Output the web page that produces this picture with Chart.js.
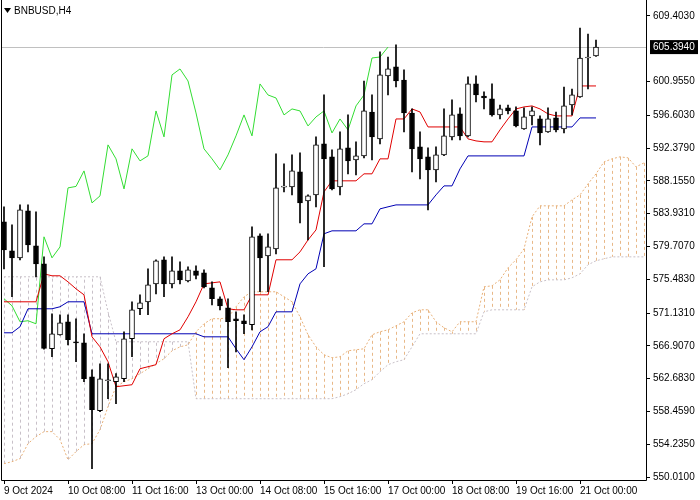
<!DOCTYPE html>
<html><head><meta charset="utf-8">
<script src="https://cdn.jsdelivr.net/npm/chart.js@4.4.1/dist/chart.umd.min.js"></script>
<style>html,body{margin:0;padding:0;background:#fff}#w{width:700px;height:500px}</style>
</head><body><div id="w"><canvas id="c"></canvas></div>
<script>
const symbolTitle = "BNBUSD,H4";
const xTickIndex = [0, 8, 16, 24, 32, 40, 48, 56, 64, 72];
const xTickLabels = ["9 Oct 2024","10 Oct 08:00","11 Oct 16:00","13 Oct 00:00","14 Oct 08:00","15 Oct 16:00","17 Oct 00:00","18 Oct 08:00","19 Oct 16:00","21 Oct 00:00"];
const yTicks = [609.4030,600.9550,596.6030,592.3790,588.1550,583.9310,579.7070,575.4830,571.1310,566.9070,562.6830,558.4590,554.2350,550.0100];
const lastPrice = 605.3940;

const openP = [582.89,579.15,578.25,584.30,579.79,577.48,566.54,568.34,570.02,567.44,567.31,562.94,558.56,562.42,562.29,562.68,567.83,571.69,572.59,574.90,578.00,574.90,576.58,575.29,576.58,576.32,574.39,572.98,571.82,570.41,570.15,569.63,581.09,578.51,579.41,587.35,587.39,589.32,585.59,586.36,592.93,591.26,587.39,592.42,590.87,591.39,597.04,593.57,601.68,602.84,601.16,596.91,592.54,591.26,589.58,591.51,593.83,596.79,593.96,600.65,599.10,598.72,596.66,597.56,597.17,594.86,596.53,596.14,594.47,596.27,594.86,597.94,598.97,603.99,604.25];
const highP = [584.82,582.50,585.07,585.07,584.17,578.38,571.05,570.92,570.92,570.41,568.47,563.84,564.61,564.61,563.33,568.73,572.59,573.49,576.84,578.00,578.38,578.38,577.74,577.10,577.23,576.71,575.16,573.24,572.98,571.30,570.92,582.24,581.35,581.35,591.64,590.35,591.51,591.77,586.36,593.83,599.23,592.16,594.47,596.66,593.19,601.03,599.23,604.77,604.12,605.67,602.45,597.43,594.47,592.42,592.54,597.43,598.59,597.56,601.55,601.68,599.62,600.65,597.94,597.94,597.69,597.56,597.69,596.53,597.56,597.04,600.26,600.00,607.85,607.08,606.31];
const lowP = [576.84,573.24,578.00,579.02,575.81,566.50,565.51,568.30,567.05,564.87,562.29,551.10,558.43,560.11,559.46,562.29,565.51,570.92,570.92,573.62,573.24,574.39,574.90,575.16,575.55,574.39,572.20,571.56,564.10,566.15,568.47,568.98,573.88,573.88,578.77,586.75,586.36,582.76,580.56,584.82,577.10,587.00,586.36,589.07,588.94,591.13,590.87,592.93,599.23,600.26,594.47,589.32,588.42,584.43,588.04,591.40,593.44,593.44,593.83,598.33,597.43,596.50,596.14,596.79,595.10,594.80,595.37,592.80,594.40,594.47,594.34,596.66,598.90,600.00,604.20];
const closeP = [579.28,578.25,584.43,579.92,577.48,566.60,568.47,569.89,567.70,567.31,562.68,558.69,562.68,562.50,562.94,567.83,571.56,572.46,574.77,577.87,574.90,576.58,575.42,576.71,576.00,574.52,572.98,572.07,570.02,570.15,569.76,580.96,578.25,579.66,587.26,587.45,589.45,585.33,586.23,592.80,591.00,587.13,592.29,590.74,591.39,597.17,593.83,601.81,602.58,601.03,596.91,592.29,591.00,589.58,591.51,593.96,596.66,593.96,600.65,599.23,598.84,596.66,597.43,597.17,595.24,596.40,597.17,594.34,596.14,594.73,597.82,599.23,603.99,604.12,605.394];

const tenkan = [572.59,572.59,572.59,572.59,572.59,576.19,575.94,575.94,575.16,574.26,573.49,568.08,566.79,564.87,561.65,561.78,561.91,563.97,564.23,564.49,567.83,568.47,568.98,570.66,572.59,574.90,575.03,575.16,571.69,571.56,571.56,573.49,573.49,573.49,578.00,578.00,578.00,579.02,580.56,581.85,586.75,588.17,588.17,588.17,588.17,589.07,589.07,591.00,591.00,596.14,596.14,597.43,597.04,595.11,595.11,595.11,595.11,595.11,593.57,593.31,593.19,593.19,594.73,596.14,597.43,597.69,597.82,597.43,596.79,596.53,596.53,596.53,600.39,600.39,600.39];
const kijun = [568.60,568.60,569.38,571.69,571.69,571.69,571.69,571.95,572.59,572.59,572.59,568.47,568.47,568.47,568.47,568.47,568.47,568.47,568.47,568.47,568.47,568.47,568.47,568.47,568.47,568.08,568.08,568.08,568.08,566.54,565.13,566.79,568.73,569.38,571.30,571.30,571.30,574.90,576.19,576.84,581.35,581.73,581.73,581.73,581.73,582.63,582.63,584.56,584.82,585.07,585.07,585.07,585.07,585.07,586.36,587.52,587.52,589.71,591.38,591.38,591.38,591.38,591.38,591.38,591.38,591.38,595.11,595.11,595.11,595.11,595.11,595.11,596.27,596.27,596.27];
const chikou = [572.98,572.07,570.02,570.15,569.76,580.96,578.25,579.66,587.26,587.45,589.45,585.33,586.23,592.80,591.00,587.13,592.29,590.74,591.39,597.17,593.83,601.81,602.58,601.03,596.91,592.29,591.00,589.58,591.51,593.96,596.66,593.96,600.65,599.23,598.84,596.66,597.43,597.17,595.24,596.40,597.17,594.34,596.14,594.73,597.82,599.23,603.99,604.12,605.394];
const spanA = [551.74,552.00,552.39,554.32,555.22,555.87,555.87,554.84,552.26,553.29,554.19,554.32,556.12,559.08,561.65,562.29,562.68,563.33,563.97,564.61,565.26,566.28,566.79,567.05,568.73,569.76,570.41,570.41,570.53,571.95,573.24,573.88,573.88,573.88,573.88,573.24,572.59,570.66,568.34,566.79,565.77,565.38,565.51,566.28,566.41,566.54,568.34,568.73,568.98,569.50,570.02,571.17,571.56,571.56,570.02,569.25,568.73,570.02,570.02,570.02,574.52,574.65,575.42,576.97,578.00,579.41,583.53,584.95,584.95,584.95,584.95,585.72,586.36,587.78,589.07,590.61,591.00,591.26,591.13,589.97,590.48];
const spanB = [575.81,575.81,575.81,575.81,575.81,575.81,575.81,575.81,575.81,575.81,575.81,575.81,575.81,571.30,567.44,567.44,567.44,567.44,567.44,567.44,567.44,567.44,567.44,567.44,560.11,560.11,560.11,560.11,560.11,560.11,560.11,560.11,560.11,560.11,560.11,560.11,560.11,560.11,560.11,560.11,560.11,560.11,560.37,560.75,561.27,562.04,562.56,563.58,564.49,564.87,565.13,566.79,568.47,568.47,568.47,568.47,568.47,568.47,568.47,568.47,571.30,571.56,571.56,571.56,571.56,571.56,574.52,575.16,575.42,575.42,575.42,575.68,576.19,577.36,577.87,578.13,578.38,578.38,578.38,578.38,578.38];

const pts = a => a.map((v, i) => ({x: i, y: v}));
const wickData = lowP.map((l, i) => ({x: i, y: [l, highP[i]]}));
const bodyData = openP.map((o, i) => ({x: i, y: [o, closeP[i]]}));
const bodyFill = openP.map((o, i) => closeP[i] >= o ? '#ffffff' : '#000000');

const cloudPlugin = {
  id: 'cloud',
  beforeDatasetsDraw(chart) {
    const {ctx, chartArea: a, scales: {x, y}} = chart;
    ctx.save();
    ctx.beginPath(); ctx.rect(a.left, a.top, a.right - a.left, a.bottom - a.top); ctx.clip();
    ctx.lineWidth = 1; ctx.setLineDash([3, 3]);
    for (let i = 0; i < spanA.length; i++) {
      const px = Math.round(x.getPixelForValue(i)) + 0.5;
      ctx.strokeStyle = spanA[i] > spanB[i] ? '#e8b888' : '#c8c0c8';
      ctx.beginPath(); ctx.moveTo(px, y.getPixelForValue(spanA[i])); ctx.lineTo(px, y.getPixelForValue(spanB[i])); ctx.stroke();
    }
    ctx.setLineDash([]);
    const py = Math.round(y.getPixelForValue(lastPrice)) + 0.5;
    ctx.strokeStyle = '#c0c0c0';
    ctx.beginPath(); ctx.moveTo(a.left, py); ctx.lineTo(a.right, py); ctx.stroke();
    ctx.restore();
  },
  afterDraw(chart) {
    const {ctx, chartArea: a, scales: {y}} = chart;
    ctx.save();
    ctx.strokeStyle = '#000'; ctx.lineWidth = 1;
    ctx.beginPath(); ctx.moveTo(a.left + 0.5, 0); ctx.lineTo(a.left + 0.5, a.bottom + 0.5); ctx.lineTo(a.right + 0.5, a.bottom + 0.5); ctx.lineTo(a.right + 0.5, 0); ctx.stroke();
    const py = y.getPixelForValue(lastPrice);
    ctx.fillStyle = '#000'; ctx.fillRect(a.right + 4, py - 7, 48, 14);
    ctx.fillStyle = '#fff'; ctx.font = '10px "Liberation Sans"'; ctx.textBaseline = 'middle'; ctx.textAlign = 'left';
    ctx.fillText(lastPrice.toFixed(4), a.right + 7, py);
    ctx.fillStyle = '#000';
    ctx.beginPath(); ctx.moveTo(4, 8); ctx.lineTo(11, 8); ctx.lineTo(7.5, 13); ctx.closePath(); ctx.fill();
    ctx.fillText(symbolTitle, 14, 11);
    ctx.restore();
  }
};

new Chart(document.getElementById('c'), {
  data: {
    datasets: [
      {type: 'bar', data: bodyData, backgroundColor: bodyFill, borderColor: '#000', borderWidth: 1, borderSkipped: false, barThickness: 5, grouped: false, minBarLength: 1, order: 0},
      {type: 'bar', data: wickData, backgroundColor: '#000', borderWidth: 0, barThickness: 1, grouped: false, order: 1},
      {type: 'line', data: pts(tenkan), borderColor: '#e00000', borderWidth: 1, pointRadius: 0, order: 2},
      {type: 'line', data: pts(kijun), borderColor: '#0000b4', borderWidth: 1, pointRadius: 0, order: 2},
      {type: 'line', data: pts(chikou), borderColor: '#33dd33', borderWidth: 1, pointRadius: 0, order: 2},
      {type: 'line', data: pts(spanA), borderColor: '#e8b078', borderWidth: 1, borderDash: [2, 2], pointRadius: 0, order: 3},
      {type: 'line', data: pts(spanB), borderColor: '#c8c0c8', borderWidth: 1, borderDash: [2, 2], pointRadius: 0, order: 3}
    ]
  },
  options: {
    responsive: true, maintainAspectRatio: false, animation: false, devicePixelRatio: 1,
    layout: {padding: {left: 1, top: 0, right: 0, bottom: 2}},
    plugins: {legend: {display: false}, tooltip: {enabled: false}},
    scales: {
      x: {type: 'linear', offset: false, min: -0.375, max: 80.25,
        afterBuildTicks: s => { s.ticks = xTickIndex.map(v => ({value: v})); },
        grid: {offset: false, drawOnChartArea: false, drawTicks: true, tickLength: 4, color: '#000'},
        border: {display: false},
        ticks: {autoSkip: false, maxRotation: 0, align: 'start', padding: 1, color: '#000', font: {family: 'Liberation Sans', size: 10},
          callback: v => xTickLabels[xTickIndex.indexOf(v)] || ''}},
      y: {position: 'right', min: 549.64, max: 610.30,
        afterBuildTicks: s => { s.ticks = yTicks.map(v => ({value: v})); },
        afterFit: s => { s.width = 54; },
        grid: {drawOnChartArea: false, drawTicks: true, tickLength: 4, color: '#000'},
        border: {display: false},
        ticks: {padding: 3, color: '#000', font: {family: 'Liberation Sans', size: 10}, callback: v => v.toFixed(4)}}
    }
  },
  plugins: [cloudPlugin]
});
</script></body></html>
